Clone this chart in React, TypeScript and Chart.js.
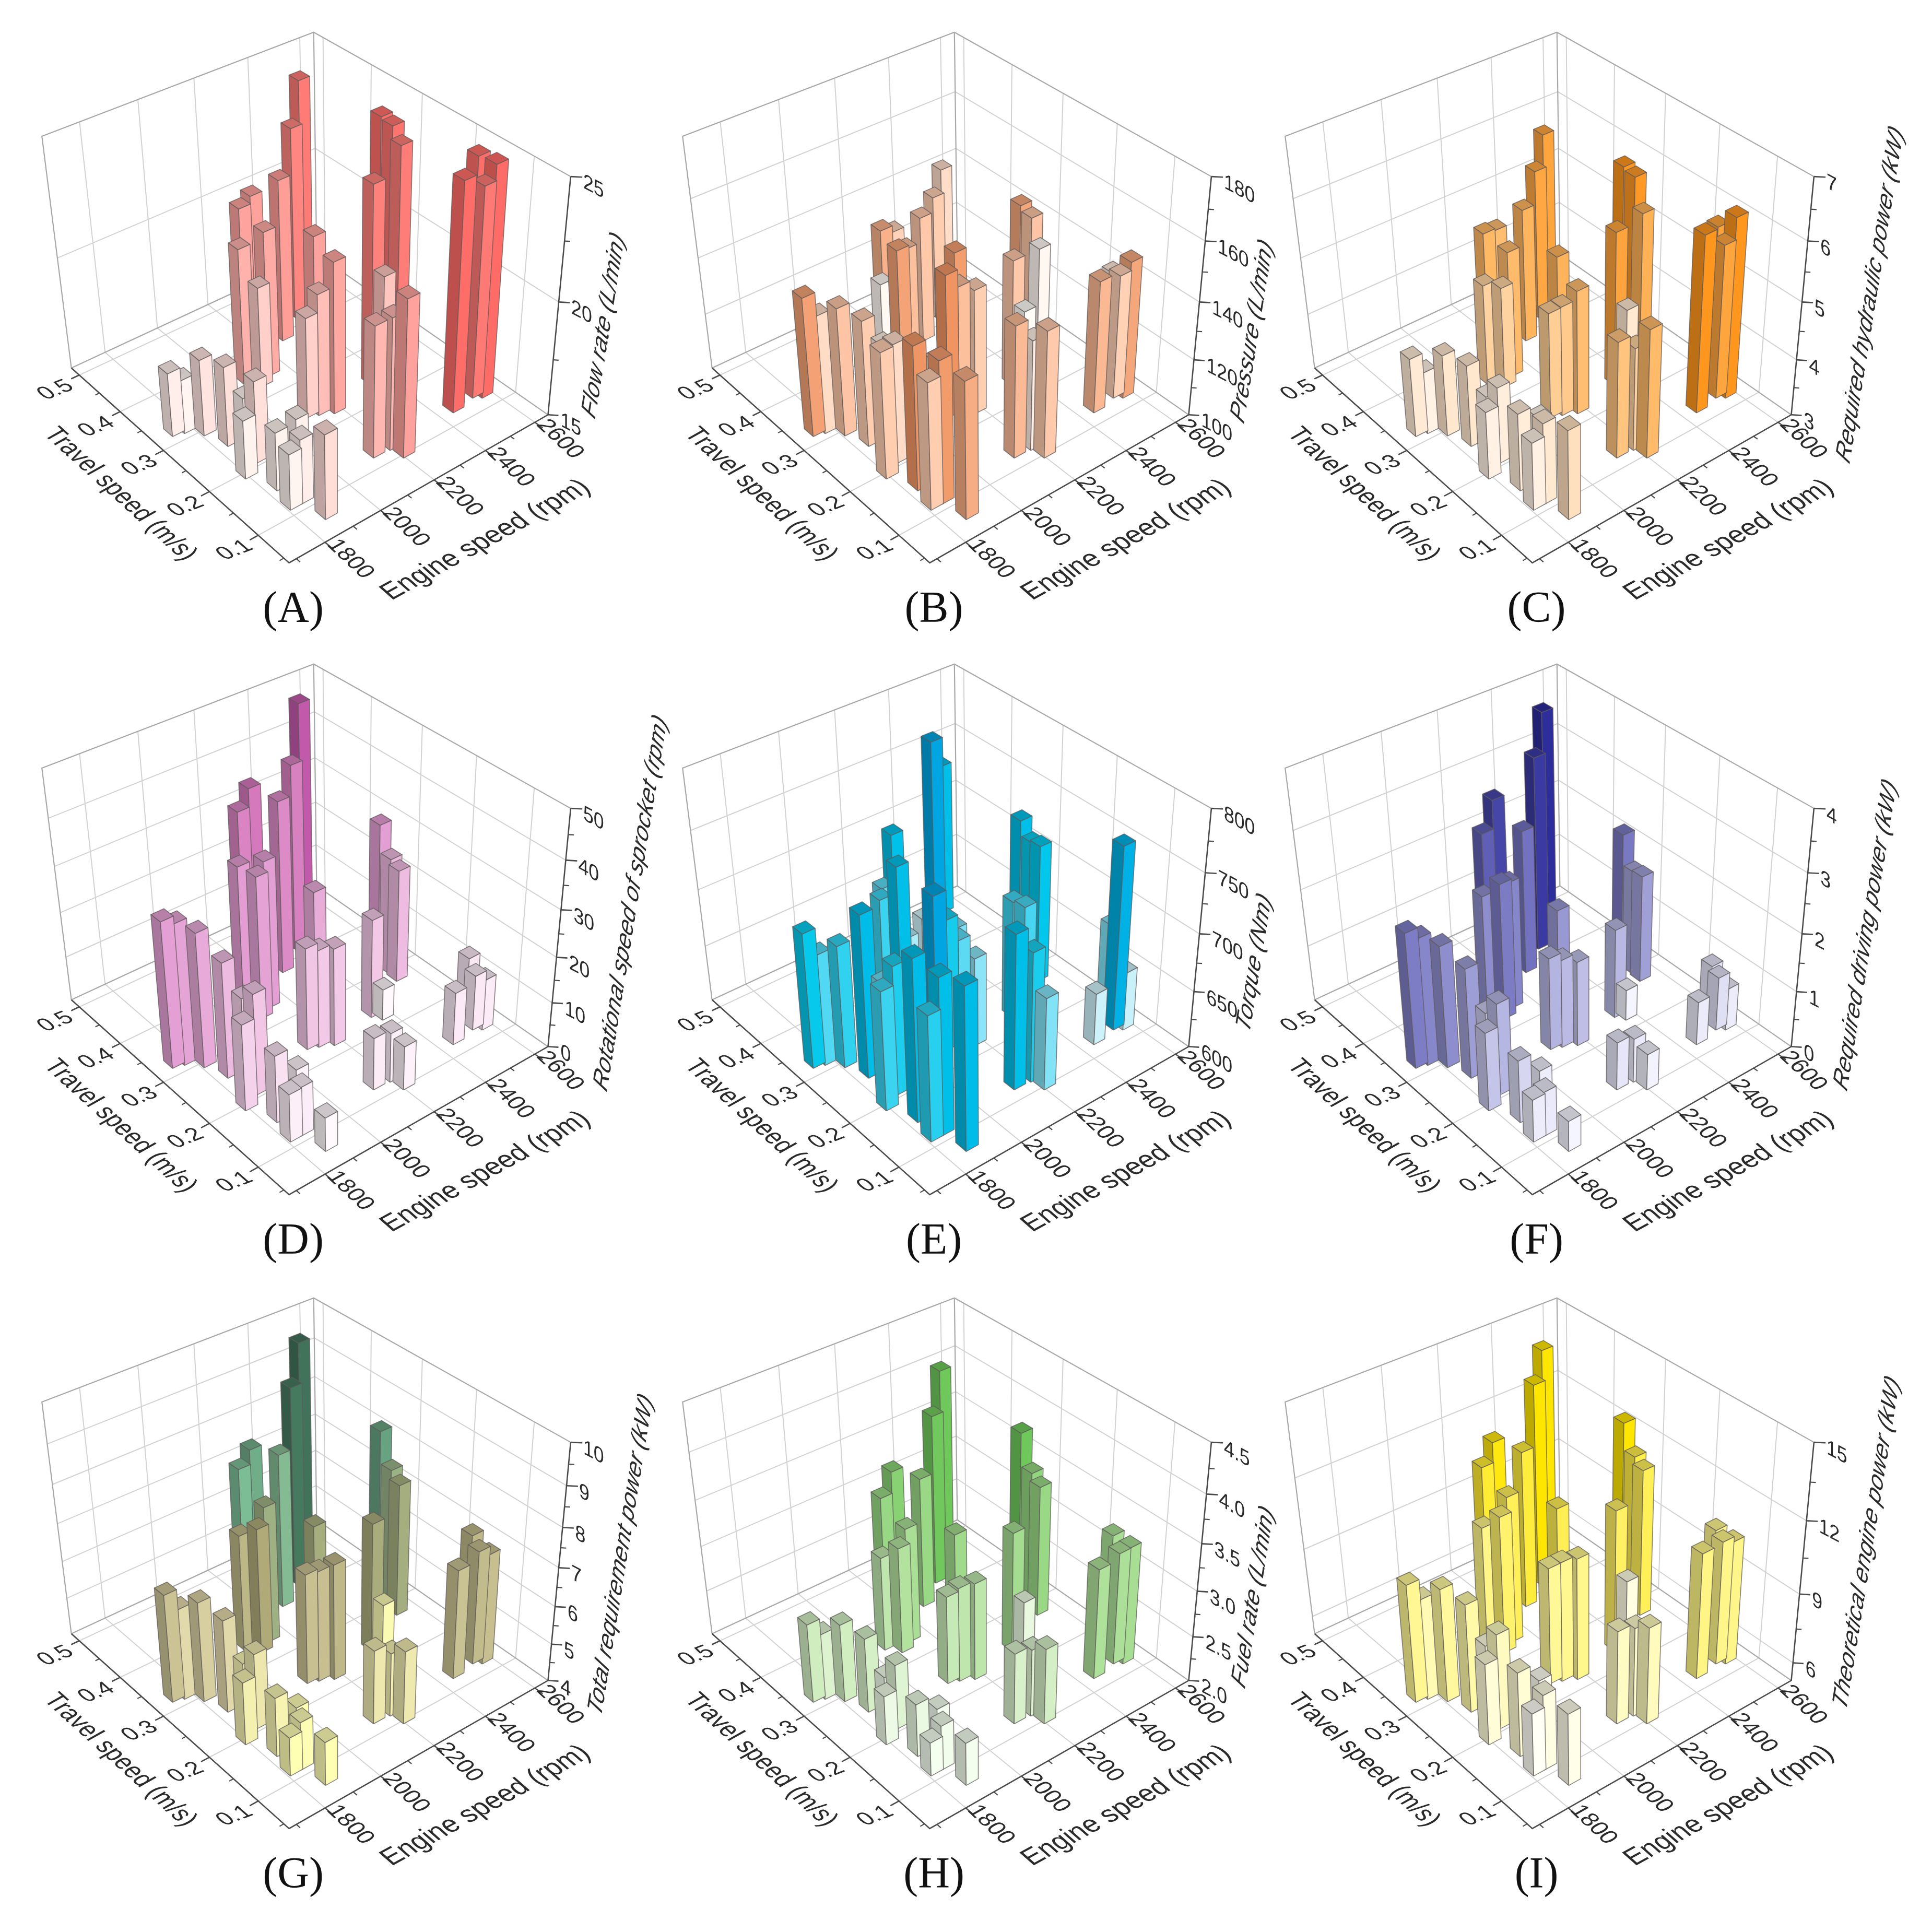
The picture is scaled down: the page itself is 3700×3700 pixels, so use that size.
import React, { useEffect, useRef } from "react";
import { Chart, registerables } from "chart.js";
Chart.register(...registerables);

// ---------- data ----------
const engineSpeed = [1753,1788,1827,1853,1808,1875,1868,1847,1827,1866,1920,1879,2064,2097,2145,2135,2194,2114,2147,2188,2212,2290,2397,2542,2149,2208,2216,2378,2360,2538,2545,2530,2465,2557,2579,2590];
const travelSpeed = [.325,.32,.30,.264,.20,.215,.235,.158,.12,.12,.158,.08,.352,.333,.345,.39,.40,.244,.238,.228,.28,.395,.427,.49,.129,.127,.105,.228,.242,.28,.30,.315,.131,.137,.129,.165];

const flowRate = [17.84,17.4,18.4,18.54,17.6,18.62,17.58,17.58,17.47,17.85,17.7,18.72,21,19.46,21.4,21.8,21.9,19.44,20.36,21.63,21.8,22.16,23.4,24,20.75,20.78,21.85,20,23.7,23.9,24.4,24.65,24.8,24.06,24.9,24.7];
const pressure = [148.5,141.6,144.8,144,144,141.5,139,149.8,144,149.2,141,147.4,136,148.4,145.4,147,143,150,145.4,143.7,149,144.5,143.8,141.3,146,138.6,144.3,127.8,144.5,136.6,144.8,148,146.2,143.4,148,139.5];
const hydraulicPower = [4.39,4.1,4.44,4.44,4.19,4.34,4.06,4.36,4.19,4.42,4.09,4.56,4.78,4.78,5.22,5.3,5.18,4.86,4.93,5.17,5.38,5.36,5.64,5.68,5.03,4.8,5.24,4.42,5.7,5.44,5.93,6.05,6.07,5.68,6.13,5.75];
const sprocketSpeed = [32,31,29.5,25.4,19,22.2,19.8,14.8,10.6,10.8,9.4,7.5,33,31.4,32.5,39.9,42.6,22.5,21.6,21.6,29,38,41,46.8,11.6,11,9.75,7,21.9,25,25.9,32.6,11.7,12.3,11.4,13];
const torque = [718,698,707,741,704,712,692,740,709,735,780,740,704,734,664,695,732,714,695,678,685,650,783,734,734,713,681,701,703,721,718,734,646,759,652,681];
const drivingPower = [2.37,2.24,2.14,1.93,1.38,1.61,1.33,1.1,.75,.78,.73,.54,2.14,2.39,2.24,2.83,3.22,1.63,1.56,1.5,2.01,2.54,3.4,3.6,.85,.78,.64,.55,1.58,1.9,1.85,2.44,.77,.95,.75,.9];
const totalPower = [6.85,6.41,6.64,6.44,5.66,5.99,5.56,5.56,5.02,5.27,5.02,5.15,7.07,7.3,7.6,8.21,8.44,6.9,6.92,7.05,7.47,8.07,9.2,9.48,5.95,5.68,5.93,5.34,7.4,7.5,7.7,8.6,6.88,7,6.92,7.05];
const fuelRate = [2.87,2.73,2.86,2.82,2.54,2.71,2.5,2.58,2.37,2.49,2.41,2.47,3.04,3.17,3.27,3.45,3.62,2.97,3.04,3.07,3.36,3.44,3.87,3.99,2.78,2.74,2.83,2.59,3.32,3.44,3.51,3.9,3.21,3.23,3.29,3.27];
const enginePower = [10.27,9.55,10.07,9.85,8.69,9.28,8.51,8.82,7.9,8.43,8.03,8.28,10.55,11.1,11.5,12.15,12.75,10.2,10.35,10.43,11.6,11.96,13.8,13.85,9.2,9.02,9.35,8.43,11.3,11.54,11.8,13.05,10.6,10.5,10.5,10.4];

const rpmTicks = [1800,2000,2200,2400,2600];
const rpmMinor = [1700,1900,2100,2300,2500];
const travelTicks = ["0.1","0.2","0.3","0.4","0.5"];
const travelMinor = [0.05,0.15,0.25,0.35,0.45];
const rpmRange = [1675,2655];
const travelRange = [0.04,0.52];

type Stop = [number, number[]];
const panels: any[] = [
  { tag:"(A)", col:0,row:0, values:flowRate, z:[15,25], ticks:["15","20","25"], minor:[17.5,22.5], title:"Flow rate (L/min)", tp:[604,-455],
    stops:[[15,[255,255,255]],[17.5,[255,245,240]],[21,[255,178,172]],[25,[255,105,100]]] as Stop[] },
  { tag:"(B)", col:1,row:0, values:pressure, z:[100,180], ticks:["100","120","140","160","180"], minor:[110,130,150,170], title:"Pressure (L/min)", tp:[619,-444],
    stops:[[130,[255,252,248]],[137,[255,248,242]],[144,[255,205,175]],[150,[240,148,98]]] as Stop[] },
  { tag:"(C)", col:2,row:0, values:hydraulicPower, z:[3,7], ticks:["3","4","5","6","7"], minor:[3.5,4.5,5.5,6.5], title:"Required hydraulic power (kW)", tp:[649,-514],
    stops:[[3.5,[255,250,245]],[4.3,[255,240,225]],[5,[255,198,130]],[6,[255,150,30]]] as Stop[] },
  { tag:"(D)", col:0,row:1, values:sprocketSpeed, z:[0,50], ticks:["0","10","20","30","40","50"], minor:[5,15,25,35,45], title:"Rotational speed of sprocket (rpm)", tp:[656,-559],
    stops:[[8,[255,248,252]],[22,[242,200,230]],[32,[228,160,212]],[42,[215,125,190]],[48,[190,80,165]]] as Stop[] },
  { tag:"(E)", col:1,row:1, values:torque, z:[600,800], ticks:["600","650","700","750","800"], minor:[625,675,725,775], title:"Torque (Nm)", tp:[623,-444],
    stops:[[650,[205,242,250]],[690,[110,222,245]],[720,[0,200,235]],[780,[0,165,225]]] as Stop[] },
  { tag:"(F)", col:2,row:1, values:drivingPower, z:[0,4], ticks:["0","1","2","3","4"], minor:[.5,1.5,2.5,3.5], title:"Required driving power (kW)", tp:[640,-498],
    stops:[[.6,[245,245,255]],[1.5,[190,190,230]],[2.3,[130,130,200]],[3.6,[45,45,155]]] as Stop[] },
  { tag:"(G)", col:0,row:2, values:totalPower, z:[4,10], ticks:["4","5","6","7","8","9","10"], minor:[4.5,5.5,6.5,7.5,8.5,9.5], title:"Total requirement power (kW)", tp:[637,-524],
    stops:[[5.2,[255,255,180]],[6.5,[225,215,170]],[7.3,[175,170,120]],[8.2,[125,190,150]],[9.3,[65,115,90]]] as Stop[] },
  { tag:"(H)", col:1,row:2, values:fuelRate, z:[2,4.5], ticks:["2.0","2.5","3.0","3.5","4.0","4.5"], minor:[2.25,2.75,3.25,3.75,4.25], title:"Fuel rate (L/min)", tp:[621,-444],
    stops:[[2.45,[245,255,240]],[2.8,[215,240,200]],[3.2,[175,225,155]],[3.9,[110,200,90]]] as Stop[] },
  { tag:"(I)", col:2,row:2, values:enginePower, z:[5.2,15], ticks:["6","9","12","15"], minor:[7.5,10.5,13.5], title:"Theoretical engine power (kW)", tp:[642,-547],
    stops:[[8,[255,255,245]],[9.8,[255,250,170]],[11.5,[255,240,90]],[13,[255,230,0]]] as Stop[] },
];

// ---------- layout of the box as drawn in the figure ----------
const W = 1300, H = 1240;
const colX = [0,1227,2381];
const rowY = [0,1209.5,2424];
const originX = 552.6, originY = 1078.5;
const cubeCorners = [
  [0,0,0, 0,0],[1,0,0, 499,-286],[0,1,0, -414.5,-374],[1,1,0, 51.4,-590.6],
  [1,1,1, 49.9,-1017.6],[0,1,1, -473,-818],[1,0,1, 539,-739],
];

function solveCamera(pts: number[][]) {
  const n = 11;
  const M = Array.from({length:n},()=>new Array(n+1).fill(0));
  const add = (row:number[], r:number) => {
    for (let i=0;i<n;i++){ for(let j=0;j<n;j++) M[i][j]+=row[i]*row[j]; M[i][n]+=row[i]*r; }
  };
  for (const [X,Y,Z,px,py] of pts) {
    const x=px/1000, y=py/1000;
    add([X,Y,Z,1,0,0,0,0,-x*X,-x*Y,-x*Z],x);
    add([0,0,0,0,X,Y,Z,1,-y*X,-y*Y,-y*Z],y);
  }
  for (let c=0;c<n;c++){
    let p=c; for(let r=c+1;r<n;r++) if(Math.abs(M[r][c])>Math.abs(M[p][c])) p=r;
    [M[c],M[p]]=[M[p],M[c]];
    for(let r=0;r<n;r++){ if(r===c) continue; const f=M[r][c]/M[c][c]; for(let k=c;k<=n;k++) M[r][k]-=f*M[c][k]; }
  }
  return M.map((row,i)=>row[n]/row[i]);
}
const cam = solveCamera(cubeCorners);
const project = (u:number,v:number,z:number) => {
  const w = cam[8]*u+cam[9]*v+cam[10]*z+1;
  return { x: originX+1000*(cam[0]*u+cam[1]*v+cam[2]*z+cam[3])/w, y: originY+1000*(cam[4]*u+cam[5]*v+cam[6]*z+cam[7])/w };
};
const uOf = (rpm:number)=>(rpm-rpmRange[0])/(rpmRange[1]-rpmRange[0]);
const vOf = (t:number)=>(t-travelRange[0])/(travelRange[1]-travelRange[0]);

const colorAt = (stops:Stop[], val:number) => {
  if (val<=stops[0][0]) return stops[0][1];
  for (let i=1;i<stops.length;i++) if (val<=stops[i][0]) {
    const f=(val-stops[i-1][0])/(stops[i][0]-stops[i-1][0]);
    return stops[i-1][1].map((c,k)=>c+(stops[i][1][k]-c)*f);
  }
  return stops[stops.length-1][1];
};
const shade = (c:number[],k:number)=>`rgb(${c.map(a=>Math.round(a*k)).join(",")})`;

const line = (pts:number[][], color:string, width:number) => ({
  data: pts.map(p=>project(p[0],p[1],p[2])), showLine:true, fill:false, borderColor:color, borderWidth:width, pointRadius:0, tension:0,
});
const face = (pts:number[][], color:string) => ({
  data: [...pts,pts[0]].map(p=>project(p[0],p[1],p[2])), showLine:true, fill:"shape", backgroundColor:color,
  borderColor:"rgba(95,90,90,0.75)", borderWidth:1.6, pointRadius:0, tension:0, borderJoinStyle:"round",
});

function buildDatasets(p:any) {
  const zOf=(val:number)=>(val-p.z[0])/(p.z[1]-p.z[0]);
  const grid="#d2d2d2", box="#a8a8a8", axis="#4a4a4a";
  const out:any[]=[];
  const us=rpmTicks.map(uOf), vs=travelTicks.map(t=>vOf(parseFloat(t)));
  const zs=p.ticks.map((t:string)=>zOf(parseFloat(t)));
  us.forEach(u=>{ out.push(line([[u,0,0],[u,1,0],[u,1,1]],grid,2)); });
  vs.forEach(v=>{ out.push(line([[0,v,0],[1,v,0],[1,v,1]],grid,2)); });
  zs.forEach((z:number)=>{ if(z>0.001&&z<0.999) out.push(line([[0,1,z],[1,1,z],[1,0,z]],grid,2)); });
  out.push(line([[0,1,0],[0,1,1],[1,1,1],[1,0,1]],box,2.2));
  out.push(line([[0,1,0],[1,1,0],[1,0,0]],box,2.2));
  out.push(line([[1,1,0],[1,1,1]],box,2.2));
  // axes and tick marks
  out.push(line([[0,1,0],[0,0,0],[1,0,0],[1,0,1]],axis,2.6));
  us.forEach(u=>out.push(line([[u,0,0],[u,-0.03,0]],axis,2.6)));
  rpmMinor.map(uOf).forEach(u=>out.push(line([[u,0,0],[u,-0.015,0]],axis,2.2)));
  vs.forEach(v=>out.push(line([[0,v,0],[-0.03,v,0]],axis,2.6)));
  travelMinor.map(vOf).forEach(v=>out.push(line([[0,v,0],[-0.015,v,0]],axis,2.2)));
  zs.forEach((z:number)=>out.push(line([[1,0,z],[1.022,-0.02,z]],axis,2.6)));
  p.minor.map(zOf).forEach((z:number)=>out.push(line([[1,0,z],[1.011,-0.01,z]],axis,2.2)));
  // bars, farthest first
  const hu=22/(rpmRange[1]-rpmRange[0]), hv=0.0102/(travelRange[1]-travelRange[0]);
  const order=engineSpeed.map((_,i)=>i).sort((a,b)=>(uOf(engineSpeed[b])+vOf(travelSpeed[b]))-(uOf(engineSpeed[a])+vOf(travelSpeed[a])));
  order.forEach(i=>{
    const u=uOf(engineSpeed[i]), v=vOf(travelSpeed[i]), val=p.values[i], z=zOf(val);
    const c=colorAt(p.stops,val);
    const a=u-hu,b=u+hu,d=v-hv,e=v+hv;
    out.push(face([[a,e,z],[b,e,z],[b,d,z],[a,d,z]],shade(c,0.8)));
    out.push(face([[a,d,0],[a,e,0],[a,e,z],[a,d,z]],shade(c,0.74)));
    out.push(face([[a,d,0],[b,d,0],[b,d,z],[a,d,z]],shade(c,1)));
  });
  return out.reverse(); // Chart.js paints the last dataset first
}

const planeText = (ctx:CanvasRenderingContext2D,text:string,x:number,y:number,b:number[],up:number[],font:string,upScale:number,align:CanvasTextAlign="center") => {
  ctx.save();
  ctx.transform(b[0],b[1],-up[0]*upScale,-up[1]*upScale,x,y);
  ctx.font=font; ctx.textAlign=align; ctx.textBaseline="middle"; ctx.fillStyle="#2a2a2a";
  ctx.fillText(text,0,0);
  ctx.restore();
};

const labelsPlugin = (p:any) => ({
  id:"boxLabels",
  afterDraw(chart:any){
    const ctx=chart.ctx as CanvasRenderingContext2D;
    const sans='"Liberation Sans", Arial, sans-serif';
    const toR=[0.87,-0.49], toBack=[-0.75,-0.66];
    rpmTicks.forEach(t=>{
      const q=project(uOf(t),0,0);
      planeText(ctx,String(t),q.x+48,q.y+32,[0.73,0.68],toR,`44px ${sans}`,1);
    });
    travelTicks.forEach(t=>{
      const q=project(0,vOf(parseFloat(t)),0);
      planeText(ctx,t,q.x-45,q.y+29,[0.93,-0.36],toBack,`44px ${sans}`,1);
    });
    p.ticks.forEach((t:string)=>{
      const q=project(1,0,(parseFloat(t)-p.z[0])/(p.z[1]-p.z[0]));
      planeText(ctx,t,q.x+24,q.y+10,[0.87,0.46],[0,-1],`41px ${sans}`,1,"left");
    });
    planeText(ctx,"Engine speed (rpm)",originX+378,originY-44,[0.876,-0.482],toBack,`50px ${sans}`,1.08);
    planeText(ctx,"Travel speed (m/s)",originX-323,originY-132,[0.74,0.67],toR,`44px ${sans}`,1.18);
    planeText(ctx,p.title,originX+p.tp[0],originY+p.tp[1],[0.16,-0.987],[-0.83,-0.56],`italic 47px ${sans}`,1);
    ctx.save();
    ctx.font='84px "Liberation Serif", "Times New Roman", serif'; ctx.textAlign="center"; ctx.textBaseline="alphabetic"; ctx.fillStyle="#111";
    ctx.fillText(p.tag,originX+9,originY+112);
    ctx.restore();
  },
});

function Panel({p}:{p:any}) {
  const ref=useRef<HTMLCanvasElement>(null);
  useEffect(()=>{
    const chart=new Chart(ref.current as HTMLCanvasElement,{
      type:"scatter",
      data:{datasets:buildDatasets(p)},
      options:{
        animation:false,responsive:false,devicePixelRatio:1,events:[],
        layout:{padding:0},
        plugins:{legend:{display:false},tooltip:{enabled:false},title:{display:false}},
        scales:{
          x:{type:"linear",min:0,max:W,display:false},
          y:{type:"linear",min:0,max:H,reverse:true,display:false},
        },
      },
      plugins:[labelsPlugin(p)],
    } as any);
    return ()=>chart.destroy();
  },[p]);
  return <canvas ref={ref} width={W} height={H} style={{position:"absolute",left:colX[p.col],top:rowY[p.row],width:W,height:H}}/>;
}

export default function App(){
  return <div style={{position:"absolute",left:0,top:0,width:3700,height:3700,background:"#fff",overflow:"hidden"}}>
    {panels.map(p=><Panel key={p.tag} p={p}/>)}
  </div>;
}
